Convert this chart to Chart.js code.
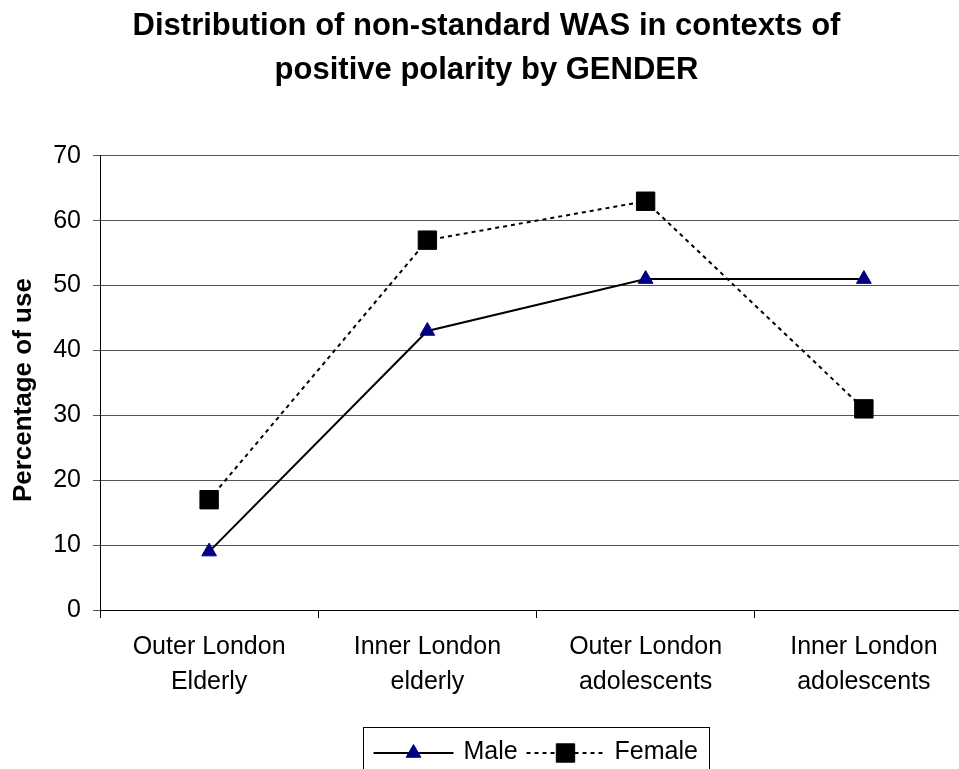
<!DOCTYPE html>
<html>
<head>
<meta charset="utf-8">
<script src="https://cdn.jsdelivr.net/npm/chart.js@4.4.0/dist/chart.umd.min.js"></script>
<style>
  html, body { margin: 0; padding: 0; background: #fff; overflow: hidden; }
  #wrap { width: 975px; height: 769px; overflow: hidden; }
</style>
</head>
<body>
<div id="wrap"><canvas id="myChart" width="975" height="769" style="width:975px;height:769px"></canvas></div>
<script>
var categories = [['Outer London', 'Elderly'], ['Inner London', 'elderly'], ['Outer London', 'adolescents'], ['Inner London', 'adolescents']];
var male = [9, 43, 51, 51];
var female = [17, 57, 63, 31];
var yTicks = [0, 10, 20, 30, 40, 50, 60, 70];

var FONT = "'Liberation Sans', Arial, sans-serif";

// big markers make chart.js reserve room on the right; the original plot runs off the edge
Chart.LineController.prototype.getMaxOverflow = function() { return 0; };

// legend box drawn by hand (line + marker samples like the original)
var boxLegend = {
  id: 'boxLegend',
  afterDraw: function(chart) {
    var ctx = chart.ctx;
    var ca = chart.chartArea;
    var cx = (ca.left + ca.right) / 2;
    var w = 346, left = Math.round(cx - w / 2) - 0.5, top = 727.5;
    ctx.save();
    ctx.strokeStyle = '#000';
    ctx.lineWidth = 1;
    ctx.strokeRect(left, top, w, 50);
    var y = 753;
    ctx.font = '25px ' + FONT;
    ctx.textBaseline = 'middle';
    ctx.fillStyle = '#000';
    var items = [
      { ds: chart.data.datasets[0], x0: left + 10, x1: left + 90, tx: left + 100 },
      { ds: chart.data.datasets[1], x0: left + 163, x1: left + 241, tx: left + 251 }
    ];
    items.forEach(function(it) {
      ctx.save();
      ctx.strokeStyle = it.ds.borderColor;
      ctx.lineWidth = it.ds.borderWidth;
      ctx.setLineDash(it.ds.borderDash || []);
      ctx.beginPath();
      ctx.moveTo(it.x0, y);
      ctx.lineTo(it.x1, y);
      ctx.stroke();
      ctx.restore();
      ctx.save();
      ctx.fillStyle = it.ds.pointBackgroundColor;
      ctx.strokeStyle = it.ds.pointBorderColor;
      ctx.lineWidth = 1;
      Chart.helpers.drawPoint(ctx, { pointStyle: it.ds.pointStyle, radius: it.ds.pointRadius, borderWidth: 1, rotation: 0 }, (it.x0 + it.x1) / 2, y);
      ctx.restore();
      ctx.fillText(it.ds.label, it.tx, y - 1);
    });
    ctx.restore();
  }
};

new Chart(document.getElementById('myChart'), {
  type: 'line',
  data: {
    labels: categories,
    datasets: [{
      label: 'Male',
      data: male,
      borderColor: '#000',
      borderWidth: 2,
      pointStyle: 'triangle',
      pointRadius: 8.5,
      pointBackgroundColor: '#000080',
      pointBorderColor: '#000080',
      pointBorderWidth: 1,
      tension: 0
    }, {
      label: 'Female',
      data: female,
      borderColor: '#000',
      borderWidth: 2,
      borderDash: [4, 4],
      pointStyle: 'rect',
      pointRadius: 13,
      pointBackgroundColor: '#000',
      pointBorderColor: '#000',
      pointBorderWidth: 1,
      tension: 0
    }]
  },
  options: {
    responsive: false,
    animation: false,
    layout: { padding: { left: 0, right: 2, top: 0, bottom: 0 } },
    plugins: {
      legend: { display: false },
      tooltip: { enabled: false },
      title: {
        display: true,
        text: ['Distribution of non-standard WAS in contexts of', 'positive polarity by GENDER'],
        color: '#000',
        font: { family: FONT, size: 31, weight: 'bold', lineHeight: 1.4 },
        padding: { top: 5, bottom: 64 }
      }
    },
    scales: {
      x: {
        offset: true,
        afterFit: function(s) { s.height = 159; },
        grid: { offset: true, drawOnChartArea: false, drawTicks: true, tickLength: 8, color: '#000' },
        border: { color: '#000', width: 1 },
        ticks: { color: '#000', padding: 12, maxRotation: 0, autoSkip: false, font: { family: FONT, size: 25, lineHeight: 1.4 } }
      },
      y: {
        min: 0,
        max: 70,
        afterFit: function(s) { s.width = 100; },
        afterBuildTicks: function(s) { s.ticks = yTicks.map(function(v) { return { value: v }; }); },
        grid: { color: '#555', lineWidth: 1, tickLength: 7 },
        border: { color: '#000', width: 1 },
        ticks: { color: '#000', padding: 12, font: { family: FONT, size: 25 } },
        title: {
          display: true,
          text: 'Percentage of use  ',
          color: '#000',
          font: { family: FONT, size: 26, weight: 'bold' },
          padding: { top: 8, bottom: 0 }
        }
      }
    }
  },
  plugins: [boxLegend]
});
</script>
</body>
</html>
